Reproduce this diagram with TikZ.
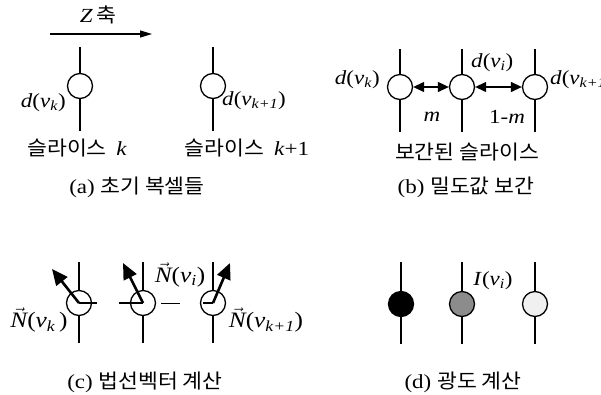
\documentclass[tikz,border=0pt]{standalone}
\usepackage{fontspec}
\setmainfont{Liberation Serif}[FakeStretch=1.15]
\newfontfamily\kr{Noto Sans CJK KR}[FakeStretch=1.08]
\usetikzlibrary{arrows.meta}
\newcommand\vsub[1]{\textit{v}\textsubscript{\textit{#1}}}
\newcommand\NN{\ensuremath{\vec{\textit{N}}}}
\begin{document}
\begin{tikzpicture}[x=1pt,y=-1pt,
  slice/.style={line width=1.3pt},
  vox/.style={circle,draw,line width=1.3pt,fill=white,minimum size=25pt,inner sep=0pt},
  lab/.style={font=\fontsize{20}{24}\selectfont,inner sep=0pt},
  nlab/.style={font=\fontsize{22}{26}\selectfont,inner sep=0pt},
  krl/.style={font=\kr\fontsize{20}{24}\selectfont,inner sep=0pt},
  capt/.style={font=\fontsize{20}{23}\selectfont,inner sep=0pt},
  dbl/.style={line width=1.2pt,{Triangle[length=11pt,width=10pt]}-{Triangle[length=11pt,width=10pt]}},
  nrm/.style={line width=2.6pt,-{Triangle[length=16pt,width=14pt]}}]
\useasboundingbox (0,0) rectangle (601,394);
% ---------- (a)
\coordinate (za) at (50,34); \coordinate (zb) at (152,34);
\draw[line width=1.2pt,-{Triangle[length=12pt,width=7pt]}] (za) -- (zb);
\node[lab] (zl) at (98,15) {\textit{Z}\,{\kr 축}};
\foreach \n/\x in {a1/80,a2/213}{
  \coordinate (\n t) at (\x,47); \coordinate (\n b) at (\x,131);
  \draw[slice] (\n t) -- (\n b);
  \node[vox] (\n) at (\x,86) {};
}
\node[lab,anchor=east] (da1) at (66,103) {\textit{d}(\vsub{k})};
\node[lab,anchor=west] (da2) at (222,101) {\textit{d}(\vsub{k+1})};
\node[krl] (sa1) at (77,148) {슬라이스 \ {\rmfamily\itshape k}};
\node[krl] (sa2) at (247,148) {슬라이스 \ {\rmfamily\textit{k}+1}};
\node[capt] (capa) at (137,187) {(a) {\kr 초기 복셀들}};
% ---------- (b)
\foreach \n/\x in {b1/400,b2/462,b3/535}{
  \coordinate (\n t) at (\x,49); \coordinate (\n b) at (\x,132);
  \draw[slice] (\n t) -- (\n b);
  \node[vox] (\n) at (\x,87) {};
}
\draw[dbl] (b1.east) -- (b2.west);
\draw[dbl] (b2.east) -- (b3.west);
\node[lab,anchor=east] (db1) at (380,80) {\textit{d}(\vsub{k})};
\node[lab,anchor=west] (db2) at (471,63) {\textit{d}(\vsub{i})};
\node[lab,anchor=west] (db3) at (550,80) {\textit{d}(\vsub{k+1})};
\node[lab] (m1) at (432,117) {\textit{m}};
\node[lab] (m2) at (507,117) {1-\textit{m}};
\node[krl] (sb) at (467,152) {보간된 슬라이스};
\node[capt] (capb) at (466,187) {(b) {\kr 밀도값 보간}};
% ---------- (c)
\foreach \n/\x in {c1/79,c2/143,c3/213}{
  \coordinate (\n t) at (\x,262); \coordinate (\n b) at (\x,343);
  \draw[slice] (\n t) -- (\n b);
  \node[vox] (\n) at (\x,303) {};
}
\coordinate (h1) at (97,303); \coordinate (h2) at (119,303);
\coordinate (h3) at (161,303); \coordinate (h4) at (180,303);
\coordinate (h5) at (203,303);
\draw[line width=1.2pt] (c1.center) -- (h1);
\draw[line width=1.2pt] (h2) -- (c2.center);
\draw[line width=0.8pt] (h3) -- (h4);
\draw[line width=1.2pt] (h5) -- (c3.center);
\coordinate (n1) at (52,269); \coordinate (n2) at (123,263); \coordinate (n3) at (230,263);
\draw[nrm] (c1.center) -- (n1);
\draw[nrm] (c2.center) -- (n2);
\draw[nrm] (c3.center) -- (n3);
\node[nlab] (nl1) at (39,320) {\NN(\vsub{k}\,)};
\node[nlab] (nl2) at (180,275) {\NN(\vsub{i})};
\node[nlab] (nl3) at (266,320) {\NN(\vsub{k+1})};
\node[capt] (capc) at (145,382) {(c) {\kr 법선벡터 계산}};
% ---------- (d)
\foreach \n/\x/\f in {d1/401/black,d2/462/black!45,d3/535/black!6}{
  \coordinate (\n t) at (\x,262); \coordinate (\n b) at (\x,344);
  \draw[slice] (\n t) -- (\n b);
  \node[vox,fill=\f] (\n) at (\x,304) {};
}
\node[lab] (il) at (493,281) {\textit{I}(\vsub{i})};
\node[capt] (capd) at (463,382) {(d) {\kr 광도 계산}};
\end{tikzpicture}
\end{document}
